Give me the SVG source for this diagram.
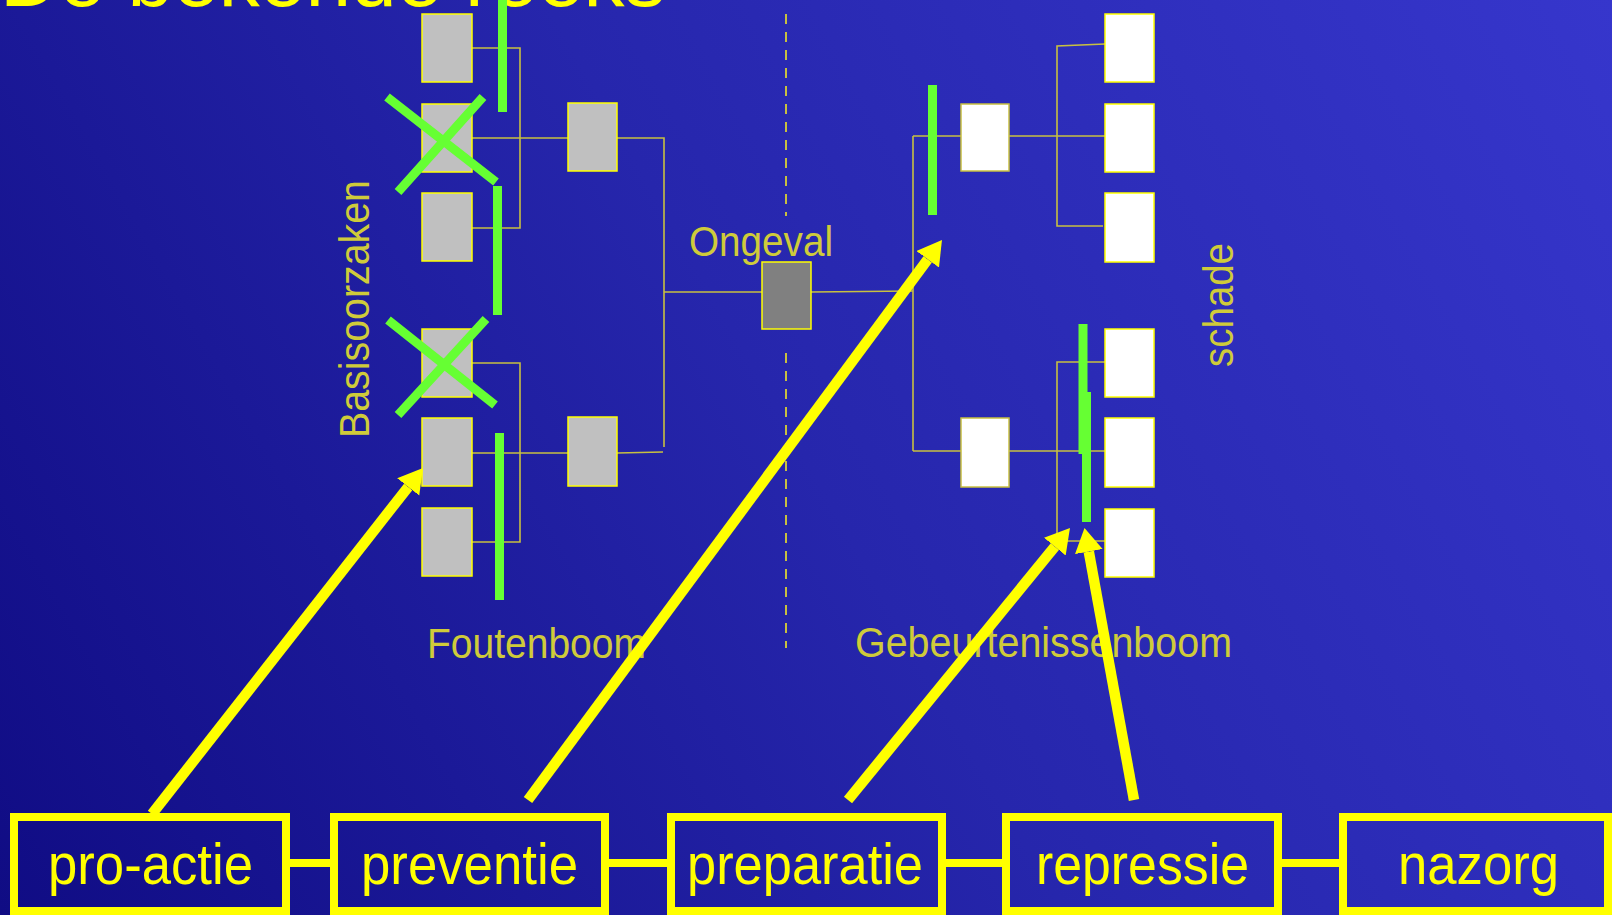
<svg xmlns="http://www.w3.org/2000/svg" width="1612" height="915" viewBox="0 0 1612 915">
<defs>
<linearGradient id="bg" gradientUnits="userSpaceOnUse" x1="0" y1="915" x2="1612" y2="0">
<stop offset="0" stop-color="#100c84"/>
<stop offset="0.5" stop-color="#2626ac"/>
<stop offset="1" stop-color="#3636cc"/>
</linearGradient>
<marker id="ah" markerUnits="userSpaceOnUse" markerWidth="26" markerHeight="30" refX="0" refY="14" orient="auto">
<path d="M0,0 L24,14 L0,28 z" fill="#ffff00"/>
</marker>
<style>
.gb{fill:#c0c0c0;stroke:#ffff00;stroke-width:1.5}
.wb{fill:#ffffff;stroke:#ffff00;stroke-width:1.5}
.wb2{fill:#ffffff;stroke:#c8c040;stroke-width:1.5}
.ob{fill:#808080;stroke:#ffff00;stroke-width:1.5}
.cn{fill:none;stroke:#c8c040;stroke-width:1.6}
.gr{stroke:#66ff33;stroke-width:9;fill:none}
.ar{stroke:#ffff00;stroke-width:10.5;fill:none;marker-end:url(#ah)}
.lb{font-family:"Liberation Sans",Arial,sans-serif;font-size:42px;fill:#cfcb3a}
.bx{fill:none;stroke:#ffff00;stroke-width:8}
.bt{font-family:"Liberation Sans",Arial,sans-serif;font-size:58px;fill:#ffff00}
.ln{stroke:#ffff00;stroke-width:8}
</style>
</defs>
<rect x="0" y="0" width="1612" height="915" fill="url(#bg)"/>
<text x="0" y="6" font-family="Liberation Sans, Arial, sans-serif" font-size="82" fill="#ffff00">De bekende reeks</text>

<g id="connectors">
<path class="cn" d="M472,48 H520 V228 H472"/>
<path class="cn" d="M472,138 H568"/>
<path class="cn" d="M617,138 H664 V447"/>
<path class="cn" d="M664,292 H762"/>
<path class="cn" d="M617,453 L663,452"/>
<path class="cn" d="M472,363 H520 V542 H472"/>
<path class="cn" d="M472,453 H568"/>
<path class="cn" d="M811,292 L913,291"/>
<path class="cn" d="M913,136 V451"/>
<path class="cn" d="M913,136 H961"/>
<path class="cn" d="M1009,136 H1105"/>
<path class="cn" d="M1105,44 L1057,46 V226 H1103"/>
<path class="cn" d="M913,451 H961"/>
<path class="cn" d="M1009,451 H1105"/>
<path class="cn" d="M1105,362 H1057 V541 H1105"/>
<path d="M786,14 V216 M786,353 V648" stroke="#c8c040" stroke-width="2" stroke-dasharray="10 8" fill="none"/>
<path class="ln" d="M290,863 H330 M609,863 H667 M946,863 H1002 M1282,863 H1339"/>
</g>

<g id="fault-tree">
<rect class="gb" x="422" y="14" width="50" height="68"/>
<rect class="gb" x="422" y="104" width="50" height="68"/>
<rect class="gb" x="422" y="193" width="50" height="68"/>
<rect class="gb" x="422" y="329" width="50" height="68"/>
<rect class="gb" x="422" y="418" width="50" height="68"/>
<rect class="gb" x="422" y="508" width="50" height="68"/>
<rect class="gb" x="568" y="103" width="49" height="68"/>
<rect class="gb" x="568" y="417" width="49" height="69"/>
</g>

<g id="ongeval">
<rect class="ob" x="762" y="262" width="49" height="67"/>
<text class="lb" x="689" y="256" textLength="144" lengthAdjust="spacingAndGlyphs">Ongeval</text>
</g>

<g id="event-tree">
<rect class="wb2" x="961" y="104" width="48" height="67"/>
<rect class="wb2" x="961" y="418" width="48" height="69"/>
<rect class="wb" x="1105" y="14" width="49" height="68"/>
<rect class="wb" x="1105" y="104" width="49" height="68"/>
<rect class="wb" x="1105" y="193" width="49" height="69"/>
<rect class="wb" x="1105" y="329" width="49" height="68"/>
<rect class="wb" x="1105" y="418" width="49" height="69"/>
<rect class="wb" x="1105" y="509" width="49" height="68"/>
</g>

<g id="labels">
<text class="lb" x="427" y="658" textLength="219" lengthAdjust="spacingAndGlyphs">Foutenboom</text>
<text class="lb" x="855" y="657" textLength="377" lengthAdjust="spacingAndGlyphs">Gebeurtenissenboom</text>
<text class="lb" transform="translate(369,438) rotate(-90)" textLength="258" lengthAdjust="spacingAndGlyphs">Basisoorzaken</text>
<text class="lb" transform="translate(1233,367) rotate(-90)" textLength="124" lengthAdjust="spacingAndGlyphs">schade</text>
</g>

<g id="barriers">
<path class="gr" d="M502.5,0 V112"/>
<path class="gr" d="M497.5,186 V315"/>
<path class="gr" d="M499.5,433 V600"/>
<path class="gr" d="M387,97 L496,182 M483,97 L398,192"/>
<path class="gr" d="M388,320 L495,405 M486,319 L398,415"/>
<path class="gr" d="M932.5,85 V215"/>
<path class="gr" d="M1083,324 V454"/>
<path class="gr" d="M1086.5,392 V522"/>
</g>

<g id="arrows">
<path class="ar" d="M152,814 L408.2,486.9"/>
<path class="ar" d="M528,800 L927.7,259.3"/>
<path class="ar" d="M848,800 L1054.8,546.6"/>
<path class="ar" d="M1134,800 L1088.8,551.6"/>
</g>

<g id="pro-actie">
<rect class="bx" x="14" y="817" width="272" height="94"/>
<text class="bt" x="48" y="884" textLength="205" lengthAdjust="spacingAndGlyphs">pro-actie</text>
</g>
<g id="preventie">
<rect class="bx" x="334" y="817" width="271" height="94"/>
<text class="bt" x="361" y="884" textLength="217" lengthAdjust="spacingAndGlyphs">preventie</text>
</g>
<g id="preparatie">
<rect class="bx" x="671" y="817" width="271" height="94"/>
<text class="bt" x="687" y="884" textLength="236" lengthAdjust="spacingAndGlyphs">preparatie</text>
</g>
<g id="repressie">
<rect class="bx" x="1006" y="817" width="272" height="94"/>
<text class="bt" x="1036" y="884" textLength="213" lengthAdjust="spacingAndGlyphs">repressie</text>
</g>
<g id="nazorg">
<rect class="bx" x="1343" y="817" width="265" height="94"/>
<text class="bt" x="1398" y="884" textLength="161" lengthAdjust="spacingAndGlyphs">nazorg</text>
</g>
</svg>
